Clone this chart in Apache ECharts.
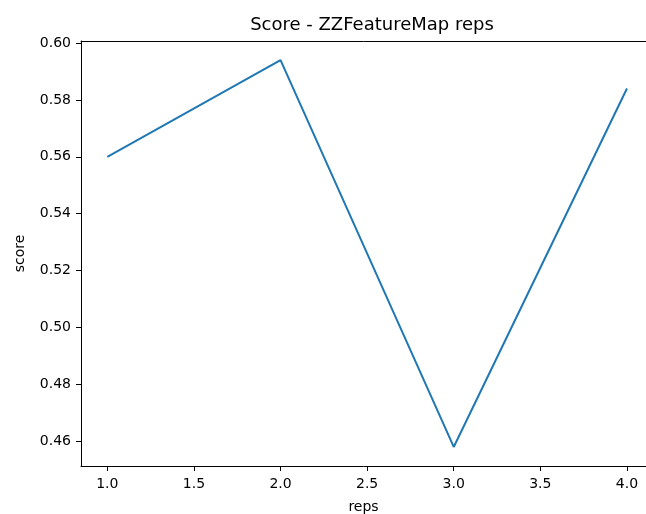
<!DOCTYPE html>
<html>
<head>
<meta charset="utf-8">
<script src="https://cdn.jsdelivr.net/npm/echarts@6/dist/echarts.min.js"></script>
<style>
  html, body { margin: 0; padding: 0; background: #fff; }
  #chart { width: 646px; height: 514px; }
</style>
</head>
<body>
<div id="chart"></div>
<script>
// data
const reps = [1, 2, 3, 4]
const scores = [0.560, 0.594, 0.458, 0.584]
const xTicks = [1.0, 1.5, 2.0, 2.5, 3.0, 3.5, 4.0]
const yTicks = [0.46, 0.48, 0.50, 0.52, 0.54, 0.56, 0.58, 0.60]

const font = 'DejaVu Sans'
const chart = echarts.init(document.getElementById('chart'))

chart.setOption({
  animation: false,
  title: {
    text: 'Score - ZZFeatureMap reps',
    left: 367,
    textAlign: 'center',
    top: 11,
    textStyle: { fontFamily: font, fontSize: 18, fontWeight: 'normal', color: '#000' }
  },
  // the axes' right edge is cut off by the canvas in the original
  grid: { left: 81, top: 41, bottom: 48, right: 0, outerBoundsMode: 'none' },
  xAxis: [
    {
      type: 'value',
      min: 0.848, max: 4.11,
      name: 'reps',
      nameLocation: 'middle',
      nameGap: 34,
      nameTextStyle: { fontFamily: font, fontSize: 14, color: '#000' },
      splitLine: { show: false },
      axisLine: { onZero: false, lineStyle: { color: '#000', width: 1 } },
      axisTick: { show: true, length: 5, lineStyle: { color: '#000' }, customValues: xTicks },
      axisLabel: {
        fontFamily: font, fontSize: 14, color: '#000', margin: 11,
        customValues: xTicks,
        formatter: v => v.toFixed(1)
      }
    },
    {
      // top spine only
      type: 'value',
      position: 'top',
      min: 0.848, max: 4.11,
      splitLine: { show: false },
      axisLine: { show: true, onZero: false, lineStyle: { color: '#000', width: 1 } },
      axisTick: { show: false },
      axisLabel: { show: false }
    }
  ],
  yAxis: {
    type: 'value',
    min: 0.4513, max: 0.6007,
    name: 'score',
    nameLocation: 'middle',
    nameGap: 54,
    nameTextStyle: { fontFamily: font, fontSize: 14, color: '#000' },
    splitLine: { show: false },
    axisLine: { show: true, onZero: false, lineStyle: { color: '#000', width: 1 } },
    axisTick: { show: true, length: 5, lineStyle: { color: '#000' }, customValues: yTicks },
    axisLabel: {
      fontFamily: font, fontSize: 14, color: '#000', margin: 10,
      customValues: yTicks,
      formatter: v => v.toFixed(2)
    }
  },
  series: [
    {
      type: 'line',
      data: reps.map((r, i) => [r, scores[i]]),
      showSymbol: false,
      lineStyle: { color: '#1f77b4', width: 2 }
    }
  ]
})
</script>
</body>
</html>
